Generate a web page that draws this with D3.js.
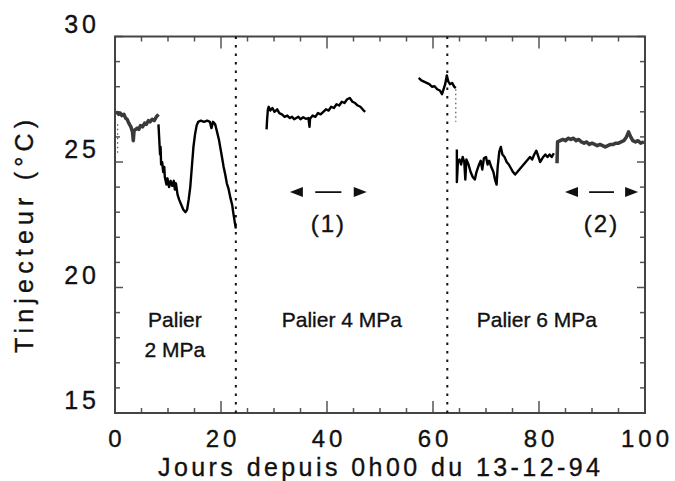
<!DOCTYPE html>
<html><head><meta charset="utf-8">
<script src="https://cdn.jsdelivr.net/npm/d3@7"></script>
<style>
html,body{margin:0;padding:0;background:#fff;}
text{font-family:"Liberation Sans",Arial,Helvetica,sans-serif;fill:#111;stroke:#111;stroke-width:0.35px;}
</style></head>
<body><svg id="c" width="675" height="481"></svg>
<script>
// ---- data (days, °C) ----
const xTickLabels = [0, 20, 40, 60, 80, 100];
const yTickLabels = [15, 20, 25, 30];
const stepLines = [22.8, 62.7];   // pressure step changes (dotted)
const seg1start = [[0.5,26.5],[0.5,25.3]];
const seg1 = [[0.2,27.0],[0.5,26.95],[0.7,26.9],[1.0,26.95],[1.3,26.85],[1.7,26.9],[2.0,26.75],[2.3,26.7],[2.6,26.55],[3.0,26.4],[3.3,26.2],[3.45,25.85],[3.6,26.25],[3.9,26.3],[4.2,26.35],[4.5,26.3],[4.8,26.45],[5.2,26.4],[5.6,26.55],[5.9,26.5],[6.3,26.65],[6.6,26.6],[7.0,26.7],[7.4,26.65],[7.8,26.8],[8.2,26.9]];
const seg2 = [[8.2,26.5],[8.35,25.9],[8.5,25.3],[8.6,25.6],[8.7,24.9],[8.9,25.0],[9.1,24.6],[9.3,24.8],[9.4,24.4],[9.7,24.1],[9.9,24.35],[10.2,24.0],[10.5,24.25],[10.8,24.05],[11.1,24.25],[11.3,23.9],[11.5,24.15],[11.8,23.7],[12.1,23.5],[12.5,23.3],[12.9,23.1],[13.3,23.0],[13.6,23.1],[13.9,23.5],[14.2,24.0],[14.5,24.8],[14.8,25.6],[15.1,26.1],[15.4,26.45],[15.7,26.6],[16.2,26.65],[16.8,26.6],[17.4,26.65],[17.9,26.6],[18.2,26.35],[18.5,26.6],[18.9,26.5],[19.2,26.25],[19.6,25.9],[20.1,25.3],[20.5,24.8],[20.8,24.5],[21.1,24.15],[21.4,23.95],[21.8,23.55],[22.1,23.3],[22.3,23.0],[22.6,22.6],[22.8,22.35]];
const seg3 = [[28.6,26.3],[28.7,26.7],[28.85,27.1],[29.0,27.2],[29.3,27.05],[29.7,27.15],[30.1,27.0],[30.6,27.1],[31.0,26.95],[31.5,26.9],[32.0,26.8],[32.5,26.85],[33.0,26.75],[33.4,26.8],[33.8,26.7],[34.2,26.75],[34.6,26.8],[35.0,26.7],[35.5,26.78],[36.0,26.72],[36.5,26.75],[36.7,26.4],[36.8,26.72],[37.3,26.85],[37.8,26.8],[38.3,26.95],[38.8,26.9],[39.3,27.0],[39.8,27.1],[40.3,27.05],[40.8,27.2],[41.3,27.15],[41.8,27.3],[42.3,27.25],[42.8,27.4],[43.3,27.35],[43.8,27.5],[44.3,27.55],[44.8,27.4],[45.3,27.35],[45.8,27.25],[46.3,27.2],[46.8,27.08],[47.2,27.0]];
const seg4 = [[57.3,28.35],[57.8,28.25],[58.3,28.2],[58.8,28.15],[59.3,28.1],[59.8,28.0],[60.3,28.02],[60.8,27.9],[61.3,27.85],[61.7,27.7],[62.0,27.9],[62.3,28.1],[62.6,28.45],[62.9,28.2],[63.2,28.1],[63.6,28.15],[64.0,28.0],[64.3,27.95]];
const seg4tail = [[64.3,27.9],[64.3,26.6]];
const seg5 = [[64.5,25.5],[64.5,24.2],[64.7,25.0],[65.0,25.1],[65.3,24.9],[65.6,25.2],[65.9,25.0],[66.1,24.3],[66.3,25.1],[66.7,24.9],[67.1,24.6],[67.5,24.4],[67.9,24.3],[68.2,24.6],[68.6,24.85],[69.0,25.05],[69.3,24.7],[69.6,25.15],[70.0,25.2],[70.3,24.9],[70.6,25.05],[71.0,24.8],[71.4,24.6],[71.7,24.3],[72.0,24.1],[72.2,24.8],[72.5,25.4],[72.8,25.6],[73.1,25.3],[73.5,25.2],[73.9,25.0],[74.3,24.9],[74.7,24.75],[75.1,24.6],[75.5,24.5],[75.9,24.6],[76.3,24.7],[76.7,24.8],[77.1,24.9],[77.5,25.0],[77.9,25.1],[78.3,25.2],[78.7,25.1],[79.1,25.3],[79.5,25.45],[79.9,25.2],[80.2,25.0],[80.5,25.1],[80.8,25.2],[81.2,25.3],[81.6,25.2],[82.0,25.3],[82.4,25.2],[82.8,25.35]];
const seg6 = [[83.4,24.95],[83.5,25.8],[84.0,25.85],[84.5,25.9],[85.0,25.85],[85.5,25.95],[86.0,25.9],[86.5,25.95],[87.0,25.85],[87.5,25.9],[88.0,25.8],[88.5,25.75],[89.0,25.8],[89.5,25.7],[90.0,25.75],[90.5,25.7],[91.0,25.65],[91.5,25.7],[92.0,25.65],[92.5,25.6],[93.0,25.65],[93.5,25.7],[94.0,25.7],[94.5,25.75],[95.0,25.75],[95.5,25.8],[96.0,25.85],[96.5,26.0],[96.9,26.2],[97.3,26.0],[97.7,25.85],[98.2,25.8],[98.7,25.85],[99.2,25.75],[99.8,25.8]];
const paliers = [{label:["Palier","2 MPa"], x:11.3, t:18.43}, {label:["Palier 4 MPa"], x:42.8, t:18.43}, {label:["Palier 6 MPa"], x:79.6, t:18.43}];
const periods = [{name:"(1)", from:33.0, to:47.5, t:23.8}, {name:"(2)", from:84.9, to:98.7, t:23.8}];

// ---- drawing ----
const svg = d3.select("#c");
const L=115, R=645, T=36.5, B=413;
const x = d3.scaleLinear().domain([0,100]).range([L,R]);
const y = d3.scaleLinear().domain([15,30]).range([B,T]);

// ticks inside the frame
const xMinor = d3.range(0,101,5), yMinor = d3.range(15,31,1);
const tickCol = "#555";
function xt(g, top){
  g.selectAll("line").data(xMinor).join("line")
   .attr("x1",d=>x(d)).attr("x2",d=>x(d))
   .attr("y1",top?T:B).attr("y2",d=>(top?T:B)+(top?1:-1)*(d%20===0?12:5))
   .attr("stroke",tickCol).attr("stroke-width",1.5);
}
xt(svg.append("g"),false); xt(svg.append("g"),true);
function yt(g, right){
  g.selectAll("line").data(yMinor).join("line")
   .attr("y1",d=>y(d)).attr("y2",d=>y(d))
   .attr("x1",right?R:L).attr("x2",d=>(right?R:L)+(right?-1:1)*(d%5===0?8:5))
   .attr("stroke",tickCol).attr("stroke-width",1.5);
}
yt(svg.append("g"),false); yt(svg.append("g"),true);

// frame
svg.append("rect").attr("x",L).attr("y",T).attr("width",R-L).attr("height",B-T)
  .attr("fill","none").attr("stroke","#444").attr("stroke-width",2);

// tick labels
svg.append("g").selectAll("text").data(xTickLabels).join("text")
  .attr("x",d=>x(d)+2).attr("y",447).attr("text-anchor","middle")
  .style("font-size","24px").style("letter-spacing","4px").text(d=>d);
svg.append("g").selectAll("text").data(yTickLabels).join("text")
  .attr("x",100).attr("y",d=>y(d)-4).attr("text-anchor","end")
  .style("font-size","25px").style("letter-spacing","4px").text(d=>d);

// axis titles
svg.append("text").attr("x",158).attr("y",475.5)
  .attr("textLength",442).attr("lengthAdjust","spacing")
  .style("font-size","25px").text("Jours depuis 0h00 du 13-12-94");
svg.append("text").attr("transform","translate(33,353) rotate(-90)")
  .attr("textLength",233).attr("lengthAdjust","spacing")
  .style("font-size","25px").text("Tinjecteur (°C)");

// dotted step lines
svg.append("g").selectAll("line").data(stepLines).join("line")
  .attr("x1",d=>x(d)).attr("x2",d=>x(d)).attr("y1",T).attr("y2",B)
  .attr("stroke","#111").attr("stroke-width",2).attr("stroke-dasharray","2.5,6");

// data
const line = d3.line().x(d=>x(d[0])).y(d=>y(d[1]));
const gray = [seg1, seg6], black = [seg2, seg3, seg4, seg5];
svg.append("g").selectAll("path").data(gray).join("path")
  .attr("d",line).attr("fill","none").attr("stroke","#3a3a3a").attr("stroke-width",3.5)
  .attr("stroke-linejoin","round");
svg.append("g").selectAll("path").data(black).join("path")
  .attr("d",line).attr("fill","none").attr("stroke","#000").attr("stroke-width",2.4)
  .attr("stroke-linejoin","round");
svg.append("g").selectAll("path").data([seg4tail, seg1start]).join("path")
  .attr("d",line).attr("fill","none")
  .attr("stroke","#555").attr("stroke-width",1.2).attr("stroke-dasharray","1.5,3");

// palier labels
paliers.forEach(p=>{
  const t = svg.append("text").attr("x",x(p.x)).attr("y",y(p.t)).attr("text-anchor","middle")
    .style("font-size","21px");
  p.label.forEach((s,i)=>t.append("tspan").attr("x",x(p.x)).attr("dy",i?30:0).text(s));
});

// period arrows
periods.forEach(p=>{
  const g = svg.append("g");
  const x0=x(p.from), x1=x(p.to), yy=y(p.t), w=x1-x0;
  g.append("path").attr("d",`M${x0},${yy}L${x0+13},${yy-5}L${x0+13},${yy+5}Z`).attr("fill","#111");
  g.append("path").attr("d",`M${x1},${yy}L${x1-13},${yy-5}L${x1-13},${yy+5}Z`).attr("fill","#111");
  g.append("line").attr("x1",x0+w*0.33).attr("x2",x0+w*0.67).attr("y1",yy).attr("y2",yy)
    .attr("stroke","#111").attr("stroke-width",1.8);
  g.append("text").attr("x",(x0+x1)/2).attr("y",yy+40).attr("text-anchor","middle")
    .style("font-size","24px").style("letter-spacing","2px").text(p.name);
});
</script></body></html>
